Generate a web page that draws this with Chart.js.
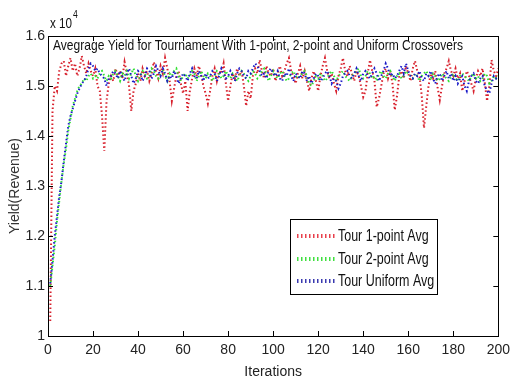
<!DOCTYPE html>
<html>
<head>
<meta charset="utf-8">
<script src="https://cdn.jsdelivr.net/npm/chart.js@4/dist/chart.umd.min.js"></script>
<style>
  html, body { margin: 0; padding: 0; background: #fff; }
  #wrap { width: 516px; height: 381px; position: relative; }
</style>
</head>
<body>
<div id="wrap"><canvas id="c" width="516" height="381"></canvas></div>
<script>
// ---- data (values in units of 10^4) ----
const chartTitle = "Avegrage Yield for Tournament With 1-point, 2-point and Uniform Crossovers";
const xTitle = "Iterations";
const yTitle = "Yield(Revenue)";
const scaleExponent = 4;
const seriesNames = ["Tour 1-point Avg", "Tour 2-point Avg", "Tour Uniform Avg"];
const xTicks = [0, 20, 40, 60, 80, 100, 120, 140, 160, 180, 200];
const yTicks = [1, 1.1, 1.2, 1.3, 1.4, 1.5, 1.6];
const iterations = Array.from({length: 200}, (_, i) => i + 1);

const tour1Point = [
  1.03,1.45,1.50,1.49,1.53,1.545,1.55,1.52,1.54,1.556,
  1.53,1.545,1.52,1.535,1.56,1.54,1.525,1.545,1.53,1.52,
  1.535,1.50,1.49,1.44,1.37,1.47,1.505,1.52,1.51,1.535,
  1.52,1.53,1.515,1.548,1.525,1.50,1.45,1.49,1.505,1.525,
  1.51,1.535,1.52,1.53,1.51,1.525,1.548,1.53,1.515,1.54,
  1.525,1.556,1.535,1.51,1.47,1.495,1.52,1.53,1.505,1.485,
  1.51,1.45,1.49,1.515,1.535,1.52,1.54,1.525,1.50,1.485,
  1.465,1.49,1.52,1.535,1.51,1.53,1.525,1.545,1.505,1.47,
  1.50,1.525,1.515,1.535,1.52,1.53,1.50,1.46,1.49,1.475,
  1.52,1.535,1.525,1.552,1.53,1.515,1.54,1.525,1.52,1.535,
  1.51,1.525,1.54,1.52,1.53,1.545,1.556,1.53,1.52,1.505,
  1.525,1.54,1.515,1.53,1.51,1.49,1.515,1.53,1.51,1.49,
  1.52,1.54,1.556,1.53,1.515,1.525,1.505,1.49,1.52,1.535,
  1.556,1.53,1.52,1.54,1.525,1.51,1.53,1.52,1.50,1.478,
  1.49,1.525,1.552,1.53,1.51,1.458,1.475,1.50,1.525,1.535,
  1.515,1.53,1.505,1.452,1.48,1.52,1.53,1.515,1.54,1.525,
  1.51,1.535,1.55,1.53,1.52,1.48,1.416,1.46,1.50,1.525,
  1.515,1.53,1.498,1.472,1.50,1.525,1.535,1.55,1.53,1.52,
  1.535,1.515,1.525,1.49,1.51,1.53,1.52,1.505,1.49,1.515,
  1.53,1.52,1.535,1.506,1.47,1.50,1.552,1.53,1.52,1.535
];
const tour2Point = [
  1.10,1.14,1.18,1.23,1.27,1.31,1.345,1.375,1.41,1.435,
  1.46,1.475,1.49,1.50,1.505,1.515,1.51,1.52,1.525,1.515,
  1.52,1.515,1.525,1.53,1.52,1.51,1.52,1.515,1.525,1.53,
  1.52,1.51,1.525,1.52,1.53,1.515,1.525,1.535,1.52,1.51,
  1.52,1.53,1.525,1.515,1.52,1.535,1.53,1.52,1.515,1.525,
  1.53,1.52,1.51,1.525,1.52,1.53,1.535,1.52,1.51,1.52,
  1.525,1.515,1.52,1.53,1.525,1.51,1.52,1.53,1.52,1.515,
  1.525,1.52,1.51,1.52,1.53,1.525,1.515,1.52,1.53,1.52,
  1.515,1.525,1.52,1.51,1.52,1.53,1.525,1.515,1.51,1.52,
  1.53,1.525,1.515,1.52,1.53,1.535,1.525,1.51,1.52,1.53,
  1.52,1.515,1.525,1.53,1.52,1.51,1.515,1.525,1.53,1.52,
  1.515,1.52,1.525,1.53,1.52,1.505,1.50,1.51,1.52,1.515,
  1.525,1.52,1.51,1.515,1.525,1.53,1.52,1.51,1.52,1.525,
  1.53,1.52,1.515,1.51,1.52,1.525,1.53,1.535,1.52,1.515,
  1.52,1.53,1.525,1.515,1.52,1.51,1.525,1.53,1.52,1.515,
  1.525,1.53,1.52,1.51,1.52,1.525,1.515,1.52,1.53,1.525,
  1.52,1.515,1.525,1.52,1.51,1.52,1.525,1.53,1.52,1.515,
  1.525,1.52,1.51,1.515,1.525,1.52,1.515,1.51,1.52,1.525,
  1.515,1.51,1.52,1.525,1.52,1.515,1.51,1.52,1.525,1.515,
  1.52,1.51,1.515,1.525,1.52,1.505,1.51,1.52,1.515,1.52
];
const tourUniform = [
  1.105,1.15,1.20,1.24,1.28,1.31,1.35,1.385,1.42,1.44,
  1.455,1.47,1.485,1.495,1.505,1.51,1.52,1.535,1.545,1.54,
  1.53,1.535,1.525,1.52,1.515,1.50,1.515,1.52,1.53,1.525,
  1.515,1.53,1.52,1.51,1.525,1.535,1.52,1.505,1.515,1.53,
  1.525,1.51,1.52,1.535,1.53,1.515,1.525,1.54,1.53,1.52,
  1.535,1.525,1.51,1.52,1.515,1.53,1.52,1.505,1.515,1.525,
  1.52,1.51,1.525,1.535,1.52,1.515,1.53,1.52,1.51,1.525,
  1.515,1.52,1.53,1.525,1.51,1.52,1.535,1.525,1.515,1.52,
  1.53,1.52,1.51,1.525,1.535,1.53,1.52,1.515,1.53,1.525,
  1.535,1.545,1.54,1.53,1.52,1.525,1.515,1.53,1.535,1.525,
  1.52,1.53,1.515,1.51,1.525,1.52,1.535,1.52,1.51,1.525,
  1.52,1.515,1.53,1.525,1.51,1.52,1.505,1.515,1.525,1.52,
  1.51,1.515,1.525,1.53,1.52,1.505,1.515,1.51,1.495,1.505,
  1.52,1.525,1.53,1.52,1.515,1.525,1.535,1.52,1.51,1.525,
  1.53,1.52,1.515,1.525,1.535,1.525,1.51,1.52,1.53,1.545,
  1.535,1.52,1.525,1.515,1.52,1.53,1.54,1.525,1.545,1.53,
  1.52,1.515,1.525,1.52,1.53,1.515,1.51,1.525,1.52,1.53,
  1.515,1.505,1.52,1.525,1.51,1.52,1.53,1.515,1.525,1.51,
  1.52,1.505,1.515,1.52,1.50,1.49,1.51,1.52,1.525,1.51,
  1.505,1.515,1.52,1.50,1.49,1.485,1.505,1.52,1.515,1.52
];
const seriesValues = [tour1Point, tour2Point, tourUniform];
const seriesColors = ["#d8202c", "#30e030", "#1a1ac8"];
const legendColors = ["#e8404c", "#40e040", "#3a3ab0"];

const REG = "'Liberation Sans', Arial, sans-serif";
const NARROW_F = 0.78;

function narrowText(ctx, text, x, y, f) {
  ctx.save();
  ctx.translate(x, y);
  ctx.scale(f, 1);
  ctx.fillText(text, 0, 0);
  ctx.restore();
}

const decorPlugin = {
  id: 'decor',
  afterDatasetsDraw(chart) {
    const ctx = chart.ctx;
    const a = chart.chartArea;
    const xs = chart.scales.x, ys = chart.scales.y;
    ctx.save();
    // box
    ctx.strokeStyle = '#000';
    ctx.lineWidth = 1;
    ctx.setLineDash([]);
    ctx.strokeRect(Math.round(a.left) + 0.5, Math.round(a.top) + 0.5,
                   Math.round(a.right - a.left), Math.round(a.bottom - a.top));
    // inner ticks
    const tl = 5;
    ctx.beginPath();
    xTicks.forEach(v => {
      const px = Math.round(xs.getPixelForValue(v)) + 0.5;
      ctx.moveTo(px, a.bottom); ctx.lineTo(px, a.bottom - tl);
      ctx.moveTo(px, a.top); ctx.lineTo(px, a.top + tl);
    });
    yTicks.forEach(v => {
      const py = Math.round(ys.getPixelForValue(v)) + 0.5;
      ctx.moveTo(a.left, py); ctx.lineTo(a.left + tl, py);
      ctx.moveTo(a.right, py); ctx.lineTo(a.right - tl, py);
    });
    ctx.stroke();
    // title inside plot
    ctx.fillStyle = '#111';
    ctx.font = "15px " + REG;
    ctx.textAlign = 'left';
    ctx.textBaseline = 'alphabetic';
    const tw = ctx.measureText(chartTitle).width;
    narrowText(ctx, chartTitle, a.left + 5, a.top + 14, 410 / tw);
    // exponent
    ctx.font = "15px " + REG;
    narrowText(ctx, "x 10", a.left + 2, a.top - 8, NARROW_F);
    const w = ctx.measureText("x 10").width * NARROW_F;
    ctx.font = "11px " + REG;
    narrowText(ctx, String(scaleExponent), a.left + 2 + w + 1, a.top - 18, NARROW_F);
    // legend
    const lx = 290, ly = 219, lw = 147, lh = 75;
    ctx.fillStyle = '#fff';
    ctx.fillRect(lx, ly, lw, lh);
    ctx.strokeStyle = '#000';
    ctx.lineWidth = 1;
    ctx.strokeRect(lx + 0.5, ly + 0.5, lw, lh);
    ctx.font = "16px " + REG;
    ctx.textBaseline = 'middle';
    seriesNames.forEach((name, i) => {
      const cy = Math.round(ly + 17 + i * 22.5);
      ctx.strokeStyle = legendColors[i];
      ctx.lineWidth = 4;
      ctx.lineCap = 'butt';
      ctx.setLineDash([1.5, 2.5]);
      ctx.beginPath();
      ctx.moveTo(lx + 7, cy); ctx.lineTo(lx + 47, cy);
      ctx.stroke();
      ctx.setLineDash([]);
      ctx.fillStyle = '#111';
      narrowText(ctx, name, lx + 48, cy + 1, NARROW_F);
    });
    ctx.restore();
  }
};

new Chart(document.getElementById('c'), {
  type: 'line',
  data: {
    datasets: seriesNames.map((name, i) => ({
      label: name,
      data: iterations.map((x, j) => ({x: x, y: seriesValues[i][j]})),
      borderColor: seriesColors[i],
      borderWidth: 2,
      borderDash: [1.5, 2.5],
      borderCapStyle: 'butt',
      pointRadius: 0,
      tension: 0,
      fill: false,
      order: 2 - i
    }))
  },
  options: {
    responsive: false,
    animation: false,
    events: [],
    layout: { padding: { top: 36, right: 10, left: 0, bottom: 0 } },
    plugins: { legend: { display: false }, tooltip: { enabled: false }, title: { display: false } },
    scales: {
      x: {
        type: 'linear', min: 0, max: 200,
        afterBuildTicks(s) { s.ticks = xTicks.map(v => ({value: v})); },
        afterFit(s) { s.height = 45; },
        grid: { display: false, drawTicks: false },
        border: { display: true, color: '#000' },
        ticks: { padding: 6, color: '#222', font: { family: REG, size: 14 }, maxRotation: 0,
                 callback: v => String(v) },
        title: { display: true, text: xTitle, color: '#222', padding: { top: 0, bottom: 0 },
                 font: { family: REG, size: 14 } }
      },
      y: {
        type: 'linear', min: 1, max: 1.6,
        afterBuildTicks(s) { s.ticks = yTicks.map(v => ({value: v})); },
        afterFit(s) { s.width = 48; },
        grid: { display: false, drawTicks: false },
        border: { display: true, color: '#000' },
        ticks: { padding: 3, color: '#222', font: { family: REG, size: 14 },
                 callback: v => String(Math.round(v * 10) / 10) },
        title: { display: true, text: yTitle, color: '#333', padding: { top: 7, bottom: 0 },
                 font: { family: REG, size: 14 } }
      }
    }
  },
  plugins: [decorPlugin]
});
</script>
</body>
</html>
